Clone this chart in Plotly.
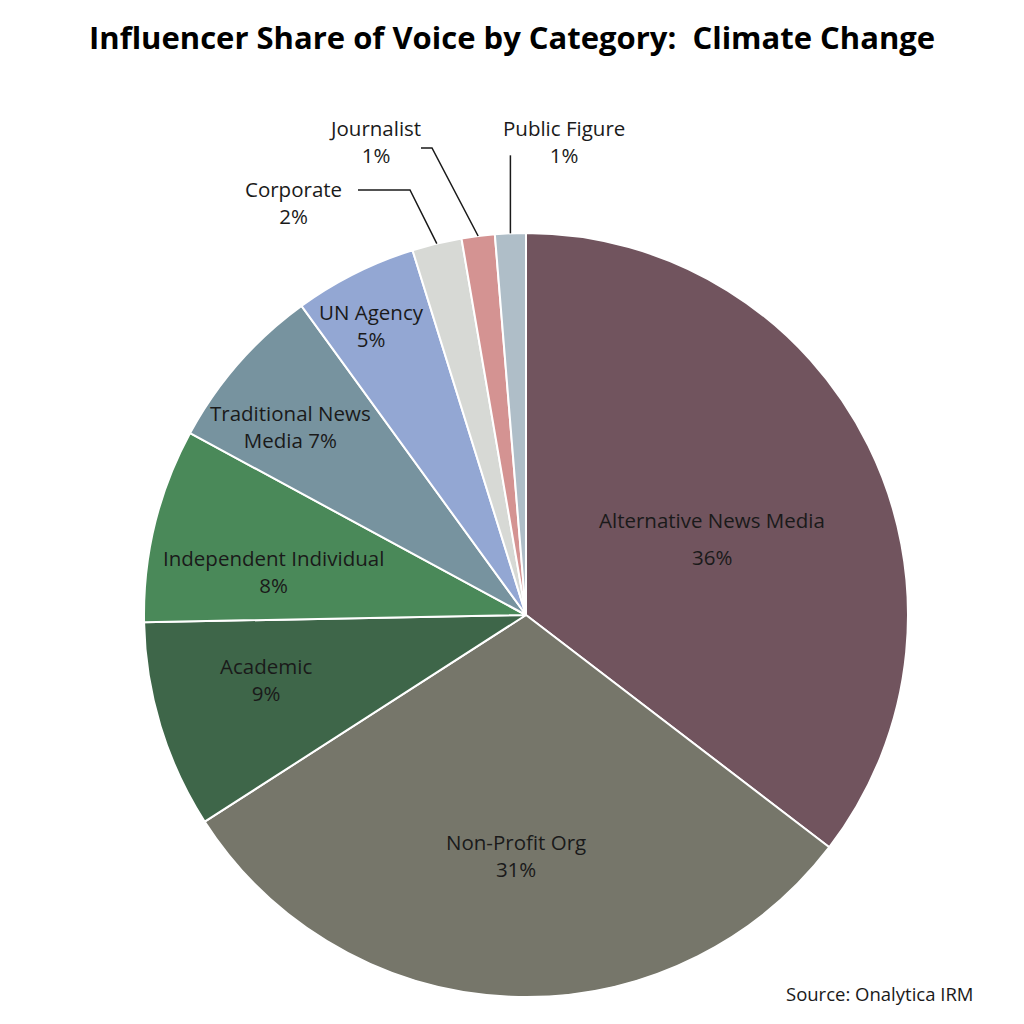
import math
import plotly.graph_objects as go

categories = ["Alternative News Media", "Non-Profit Org", "Academic", "Independent Individual",
              "Traditional News Media", "UN Agency", "Corporate", "Journalist", "Public Figure"]
values = [35.4, 30.5, 8.8, 8.2, 7.1, 5.2, 2.1, 1.4, 1.3]
pct_labels = ["36%", "31%", "9%", "8%", "7%", "5%", "2%", "1%", "1%"]
colors = ["#71545e", "#76766a", "#3e6649", "#4a8959", "#77939f", "#93a7d3",
          "#d7d9d5", "#d49392", "#afbec8"]

W = H = 1024
CX, CY, R = 526, 615, 382  # pie geometry in pixels

fig = go.Figure()
fig.add_trace(go.Pie(
    labels=categories, values=values, sort=False, direction="clockwise", rotation=0,
    marker=dict(colors=colors, line=dict(color="white", width=2)),
    textinfo="none", hoverinfo="label+percent", showlegend=False,
    domain=dict(x=[(CX - R) / W, (CX + R) / W], y=[(H - CY - R) / H, (H - CY + R) / H]),
))

total = sum(values)
mids = []
cum = 0
for v in values:
    mids.append((cum + v / 2) / total * 360)
    cum += v

def polar(angle_deg, rfrac):
    a = math.radians(angle_deg)
    return CX + rfrac * R * math.sin(a), CY - rfrac * R * math.cos(a)

FONT = dict(family="Open Sans", size=20.5, color="#1a1a1a")
annotations = []
shapes = []

# inside labels: (radius fraction, angle tweak, text)
inside = {
    0: (0.53, 3.0, None),
    1: (0.63, 0.0, "Non-Profit Org<br>31%"),
    2: (0.70, 3.0, "Academic<br>9%"),
    3: (0.67, -4.0, "Independent Individual<br>8%"),
    4: (0.79, -2.5, "Traditional News<br>Media 7%"),
    5: (0.86, -1.5, "UN Agency<br>5%"),
}
for i, (rf, dang, txt) in inside.items():
    x, y = polar(mids[i] + dang, rf)
    if txt is None:
        annotations.append(dict(x=x, y=y - 15, text=categories[i], showarrow=False, font=FONT,
                                xref="x", yref="y"))
        annotations.append(dict(x=x, y=y + 22, text=pct_labels[i], showarrow=False, font=FONT,
                                xref="x", yref="y"))
    else:
        annotations.append(dict(x=x, y=y, text=txt, showarrow=False, font=FONT,
                                xref="x", yref="y"))

# outside labels with leader lines: (elbow, line end, text position)
outside = {
    6: ((410, 190), (358, 190), (293, 202)),
    7: ((432, 148), (421, 148), (375, 141)),
    8: (None, None, (564, 141)),
}
for i, (elbow, end, tpos) in outside.items():
    ex, ey = polar(mids[i], 1.0)
    if elbow is None:
        path = f"M {ex},{ey} L {ex},{ey - 78}"
    else:
        path = f"M {ex},{ey} L {elbow[0]},{elbow[1]} L {end[0]},{end[1]}"
    shapes.append(dict(type="path", path=path, xref="x", yref="y",
                       line=dict(color="#1a1a1a", width=1.5)))
    annotations.append(dict(x=tpos[0], y=tpos[1], text=f"{categories[i]}<br>{pct_labels[i]}",
                            showarrow=False, font=FONT, xref="x", yref="y"))

annotations.append(dict(x=512, y=37, text="<b>Influencer Share of Voice by Category:  Climate Change</b>",
                        showarrow=False, xref="x", yref="y",
                        font=dict(family="Open Sans", size=31, color="#000000")))
annotations.append(dict(x=975, y=993, text="Source: Onalytica IRM", showarrow=False, xanchor="right",
                        xref="x", yref="y", font=dict(family="Open Sans", size=18.5, color="#1a1a1a")))

fig.update_layout(
    width=W, height=H, margin=dict(l=0, r=0, t=0, b=0),
    paper_bgcolor="white", plot_bgcolor="rgba(0,0,0,0)",
    xaxis=dict(range=[0, W], visible=False, fixedrange=True),
    yaxis=dict(range=[H, 0], visible=False, fixedrange=True),
    annotations=annotations, shapes=shapes,
)
fig.write_html("out.html", config={"displayModeBar": False},
               post_script="document.body.style.margin='0';")
